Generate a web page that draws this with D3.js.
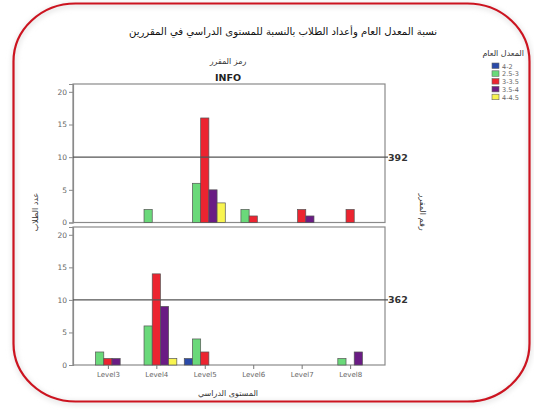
<!DOCTYPE html>
<html><head><meta charset="utf-8">
<script src="https://cdn.jsdelivr.net/npm/d3@7"></script>
<style>body{margin:0;background:#fff;}svg{display:block;}</style>
</head><body>
<script>
const categories = ["Level3","Level4","Level5","Level6","Level7","Level8"];
const seriesNames = ["4-2","2.5-3","3-3.5","3.5-4","4-4.5"];
const seriesColors = ["#2a4aa8","#6ad97a","#ec2430","#6a1c84","#f8f450"];
const panels = ["392","362"];
// values[series][category]
const values392 = [
  [0,0,0,0,0,0],
  [0,2,6,2,0,0],
  [0,0,16,1,2,2],
  [0,0,5,0,1,0],
  [0,0,3,0,0,0]
];
const values362 = [
  [0,0,1,0,0,0],
  [2,6,4,0,0,1],
  [1,14,2,0,0,0],
  [1,9,0,0,0,2],
  [0,1,0,0,0,0]
];
const yTicks = [0,5,10,15,20];
const refValue = 10;
const titleText = "نسبة المعدل العام وأعداد الطلاب بالنسبة للمستوى الدراسي في المقررين";
const panelTitle = "رمز المقرر";
const panelSub = "INFO";
const legendTitle = "المعدل العام";
const yTitle = "عدد الطلاب";
const rightTitle = "رقم المقرر";
const xTitle = "المستوى الدراسي";

const W = 534, H = 410;
const svg = d3.select("body").append("svg").attr("width", W).attr("height", H)
  .style("font-family", "'DejaVu Sans', Arial, sans-serif");

const defs = svg.append("defs");
const f = defs.append("filter").attr("id","sh").attr("x","-10%").attr("y","-10%").attr("width","120%").attr("height","120%");
f.append("feGaussianBlur").attr("stdDeviation", 2.5);

// border
svg.append("rect").attr("x",14).attr("y",5).attr("width",516).attr("height",398)
  .attr("rx",62).attr("ry",58).attr("fill","none").attr("stroke","#e8e8e8").attr("stroke-width",5).attr("filter","url(#sh)");
svg.append("rect").attr("x",13.5).attr("y",3.5).attr("width",516).attr("height",398)
  .attr("rx",62).attr("ry",58).attr("fill","none").attr("stroke","#cc1420").attr("stroke-width",2.2);

// title
svg.append("text").attr("x",437).attr("y",35).attr("text-anchor","end")
  .attr("font-size",10.1).attr("fill","#111").text(titleText);
svg.append("text").attr("x",228).attr("y",64).attr("text-anchor","middle")
  .attr("font-size",8).attr("fill","#333").text(panelTitle);
svg.append("text").attr("x",228).attr("y",81).attr("text-anchor","middle")
  .attr("font-size",9.5).attr("font-weight","bold").attr("fill","#222").text(panelSub);

const x0 = d3.scalePoint().domain(categories).range([73,385]).padding(0.72);
const x1 = d3.scaleBand().domain(d3.range(seriesNames.length)).range([-20.5,20.5]).padding(0);

const panelDefs = [
  {label: panels[0], data: values392, top: 84, bottom: 222.5},
  {label: panels[1], data: values362, top: 227, bottom: 365}
];

panelDefs.forEach((p, pi) => {
  const y = d3.scaleLinear().domain([0, 21.2]).range([p.bottom, p.top]);
  const g = svg.append("g");
  g.append("rect").attr("x",73).attr("y",p.top).attr("width",312).attr("height",p.bottom-p.top)
    .attr("fill","#fff").attr("stroke","#8a8a8a").attr("stroke-width",1.2);
  const ax = g.append("g").attr("transform","translate(73,0)")
    .call(d3.axisLeft(y).tickValues(yTicks).tickSize(4).tickPadding(2));
  ax.select(".domain").attr("stroke","#8a8a8a").attr("stroke-width",1.2);
  ax.selectAll(".tick line").attr("stroke","#8a8a8a");
  ax.selectAll(".tick text").attr("font-size",7.5).attr("fill","#666").attr("font-family","'DejaVu Sans', Arial, sans-serif");
  p.data.forEach((vals, si) => {
    g.selectAll(null).data(vals.map((v,ci)=>({v, c: categories[ci]})).filter(d=>d.v>0))
      .enter().append("rect")
      .attr("x", d => x0(d.c) + x1(si))
      .attr("y", d => y(d.v))
      .attr("width", x1.bandwidth())
      .attr("height", d => y(0) - y(d.v))
      .attr("fill", seriesColors[si]).attr("stroke","#555").attr("stroke-width",0.7);
  });
  g.append("line").attr("x1",73).attr("x2",388).attr("y1",y(refValue)).attr("y2",y(refValue))
    .attr("stroke","#555").attr("stroke-width",1.1);
  g.append("text").attr("x",388).attr("y",y(refValue)+3.5).attr("font-size",9.5).attr("font-weight","bold")
    .attr("fill","#333").text(p.label);
  if (pi === 1) {
    const xa = g.append("g").attr("transform",`translate(0,${p.bottom})`)
      .call(d3.axisBottom(x0).tickSize(4).tickPadding(3));
    xa.select(".domain").remove();
    xa.selectAll(".tick line").attr("stroke","#777");
    xa.selectAll(".tick text").attr("font-size",7).attr("fill","#666").attr("font-family","'DejaVu Sans', Arial, sans-serif");
  }
});

svg.append("text").attr("transform","translate(38,212) rotate(-90)").attr("text-anchor","middle")
  .attr("font-size",8).attr("fill","#333").text(yTitle);
svg.append("text").attr("transform","translate(420,212) rotate(90)").attr("text-anchor","middle")
  .attr("font-size",8).attr("fill","#333").text(rightTitle);
svg.append("text").attr("x",228).attr("y",396).attr("text-anchor","middle")
  .attr("font-size",8).attr("fill","#333").text(xTitle);

const lg = svg.append("g");
lg.append("text").attr("x",524).attr("y",56).attr("text-anchor","end").attr("font-size",8).attr("fill","#333").text(legendTitle);
seriesNames.forEach((s,i) => {
  const yy = 63 + i*7.8;
  lg.append("rect").attr("x",492).attr("y",yy).attr("width",7).attr("height",5.5)
    .attr("fill",seriesColors[i]).attr("stroke","#666").attr("stroke-width",0.6);
  lg.append("text").attr("x",502).attr("y",yy+5.5).attr("font-size",6.5).attr("fill","#666").text(s);
});
</script>
</body></html>
